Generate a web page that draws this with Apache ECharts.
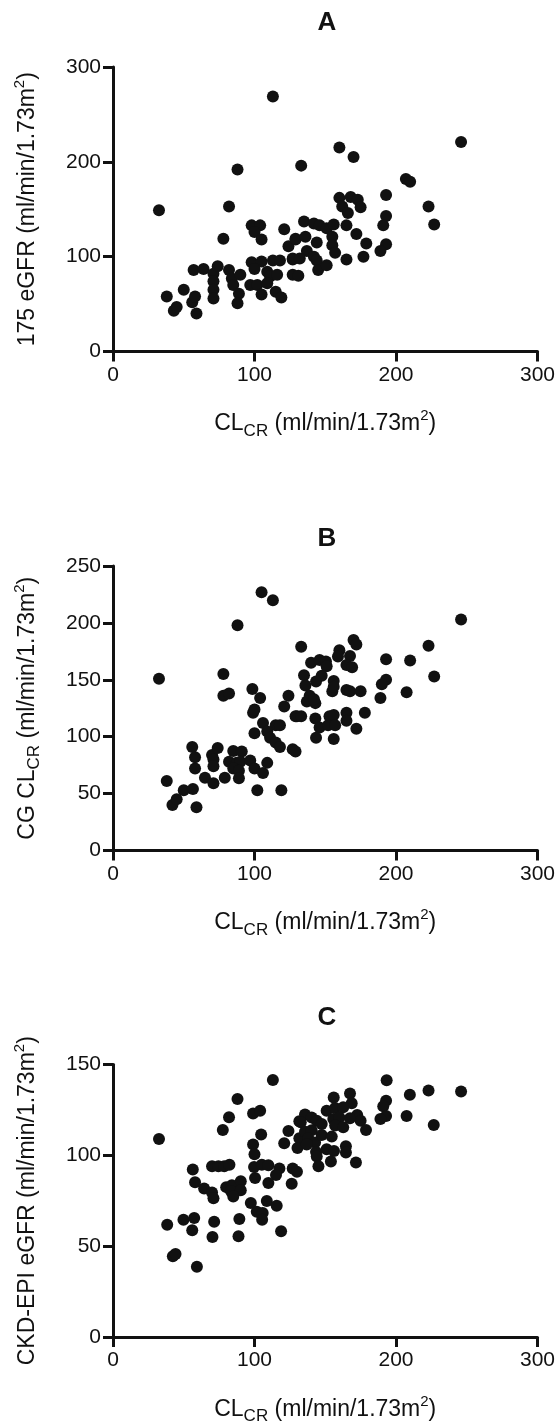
<!DOCTYPE html>
<html>
<head>
<meta charset="utf-8">
<script src="https://cdn.jsdelivr.net/npm/echarts@6/dist/echarts.min.js"></script>
<style>
html,body{margin:0;padding:0;background:#fff;}
#c{width:558px;height:1426px;}
</style>
</head>
<body>
<div id="c"></div>
<script>
// ---- Panel A: 175 eGFR vs CLCR ----
const xA = [113,88,133,32.5,82,98,104,100,121,78,105,124,129,135,
  57,64,71,71,71,71,74,82,84,85,90,89,88,98,105,100,97,102,105,109,111,109,116,113,118,115,119,127,127,38,50,43,45,56,58,59,
  246,160,170,207,210,193,223,227,160,168,173,175,162,166,193,191,193,189,165,172,179,177,165,142,146,151,156,155,155,157,129,136,144,137,142,144,127,132,145,151,131];
const yA = [269,192,196,149,153,133,133,126,129,119,118,111,118,137,
  86,87,82,74,65,56,90,86,77,70,81,61,51,94,95,87,70,70,60,84,79,72,81,96,96,63,57,97,81,58,65,43,47,52,58,40,
  221,215,205,182,179,165,153,134,162,163,160,152,153,146,143,133,113,106,133,124,114,100,97,135,133,130,134,121,112,104,119,121,115,106,100,96,98,98,86,91,80];

// ---- Panel B: CG CLCR vs CLCR ----
const xB = [105,113,88,133,32.5,78,78,82,98.5,104,124,121,99,100,106,115,100,109,111,115,118,127,129,130,118,
  56,58,58,70,71,71,74,85,91,82,87.5,90,85,89,89,79,65,71,97,100,106,109,102,119,38,50,56.5,42,45,59,
  246,223,227,210,193,193,190,207.5,189,170,172,160,159,167.5,165,169,140,146,150.5,151,135,147.5,143.5,156,155,156,136,165,167.5,175,139,137,143,142,129,133,143,146,153,156,152,157,165,165,178,172,143.5,156];
const yB = [227,220,198,179,151,155,136,138,142,134,136,126.5,121,124,112,110,103,104.5,99,95,91,89,87,118,110,
  91,82,72,84,80,74,90,87.5,87,78,77,78,72,70,63.5,64,64,59,79,72,68,77,53,53,61,53,54,40,45,38,
  203,180,153,167,168,150,146,139,134,185,181,176,170.5,171,163,161,165,167.5,166,162,154,153.5,148.5,149,140,144,145,141,140,140,136,131,129.5,133,118,118,116,108,118,119,110,110,121,114,121,107,99,98];

// ---- Panel C: CKD-EPI eGFR vs CLCR ----
const xC = [113,88,82,99,104,77.6,32.5,104.7,124,121,131.7,131.7,130.4,99,100,70,74.5,78.6,82.3,56.4,58,64.4,70,71,80,84,90.3,83.3,90.3,85,99.7,105.2,109.8,117.6,115.2,100.4,109.8,127,130,126.3,97.4,108.7,115.7,101.6,105.8,105.4,118.8,89.3,88.7,71.5,70.3,57.4,49.8,56,38.3,42.3,44.2,59.3,
  246,223,226.7,209.8,193.4,193,191,193,189,207.5,156,167.5,168.7,151,157,162.7,172.6,175,178.8,155.7,160,157,162.7,167.5,135.7,140.4,144,147.5,132.7,135.7,140.4,138,142.8,136.9,147.5,154.6,143.5,144,151,156.2,164.6,164.6,145.2,154,171.7];
const yC = [141.5,131,121,123,124.6,114,109,111.5,113.4,106.7,118.7,109.4,104,106,100.6,94,94,94,94.8,92.2,85.2,81.7,79.6,76.4,82.5,83.6,85.7,80.4,80.8,77.3,93.6,94.8,94.5,92.7,89.2,87.5,84.8,92.7,91,84.3,73.8,74.8,72.2,69,68.2,64.6,58.2,65,55.5,63.4,55,65.5,64.6,58.8,61.8,44.5,45.7,38.7,
  135.2,135.7,116.7,133.3,141.3,130,127,121.7,120,121.7,131.8,134,128.7,124.6,126,126.4,122.2,119,114,120,120.8,116.4,115.5,120.4,122.5,120.8,119,117.3,118.2,113,113.8,109.4,107,106,111.2,110.3,101.8,99.4,103.3,102.4,105,101.5,94,96.6,96];

const panelTitles = ['A','B','C'];
const xTicks = {min:0, max:300, interval:100};
const yTicks = [{min:0,max:300,interval:100},{min:0,max:250,interval:50},{min:0,max:150,interval:50}];

const INK = '#111';
const FONT = 'Liberation Sans, Arial, Helvetica, sans-serif';
const rich = {
  n:{fontSize:23, color:INK, fontFamily:FONT},
  s:{fontSize:17, color:INK, fontFamily:FONT, padding:[14,0,0,0]},
  p:{fontSize:15, color:INK, fontFamily:FONT, padding:[0,0,16,0]}
};
const xName = '{n|CL}{s|CR}{n| (ml/min/1.73m}{p|2}{n|)}';
const yNames = [
  '{n|175 eGFR (ml/min/1.73m}{p|2}{n|)}',
  '{n|CG CL}{s|CR}{n| (ml/min/1.73m}{p|2}{n|)}',
  '{n|CKD-EPI eGFR (ml/min/1.73m}{p|2}{n|)}'
];
const grids = [
  {left:113, top:67, width:428, height:284.5},
  {left:113, top:566, width:428, height:284.5},
  {left:113, top:1064.5, width:428, height:285}
];
const titleTops = [9.5, 526, 1005];

function zip(xs, ys){ return xs.map((x,i)=>[x, ys[i]]); }
const seriesData = [zip(xA,yA), zip(xB,yB), zip(xC,yC)];

const axisCommon = {
  axisLine:{show:true, onZero:false, lineStyle:{color:INK, width:3}},
  axisTick:{show:true, inside:false, length:10, lineStyle:{color:INK, width:3}},
  splitLine:{show:false},
  axisLabel:{color:INK, fontSize:21, fontFamily:FONT}
};

const option = {
  backgroundColor:'#fff',
  animation:false,
  title: panelTitles.map((t,i)=>({
    text:t, left:327, top:titleTops[i], textAlign:'center', padding:0,
    textStyle:{fontSize:26, fontWeight:'bold', color:INK, fontFamily:FONT}
  })),
  grid: grids,
  xAxis: grids.map((g,i)=>Object.assign({}, axisCommon, {
    type:'value', gridIndex:i, min:xTicks.min, max:xTicks.max, interval:xTicks.interval,
    axisLabel:Object.assign({}, axisCommon.axisLabel, {margin:13}),
    name:xName, nameLocation:'middle', nameGap:57,
    nameTextStyle:{rich:rich}
  })),
  yAxis: grids.map((g,i)=>Object.assign({}, axisCommon, {
    type:'value', gridIndex:i, min:yTicks[i].min, max:yTicks[i].max, interval:yTicks[i].interval,
    axisLabel:Object.assign({}, axisCommon.axisLabel, {margin:12}),
    name:yNames[i], nameLocation:'middle', nameGap:70,
    nameTextStyle:{rich:rich}
  })),
  series: seriesData.map((d,i)=>({
    type:'scatter', xAxisIndex:i, yAxisIndex:i, data:d,
    symbol:'circle', symbolSize:12,
    itemStyle:{color:INK, opacity:1}
  }))
};
const chart = echarts.init(document.getElementById('c'), null, {renderer:'canvas'});
chart.setOption(option);
</script>
</body>
</html>
